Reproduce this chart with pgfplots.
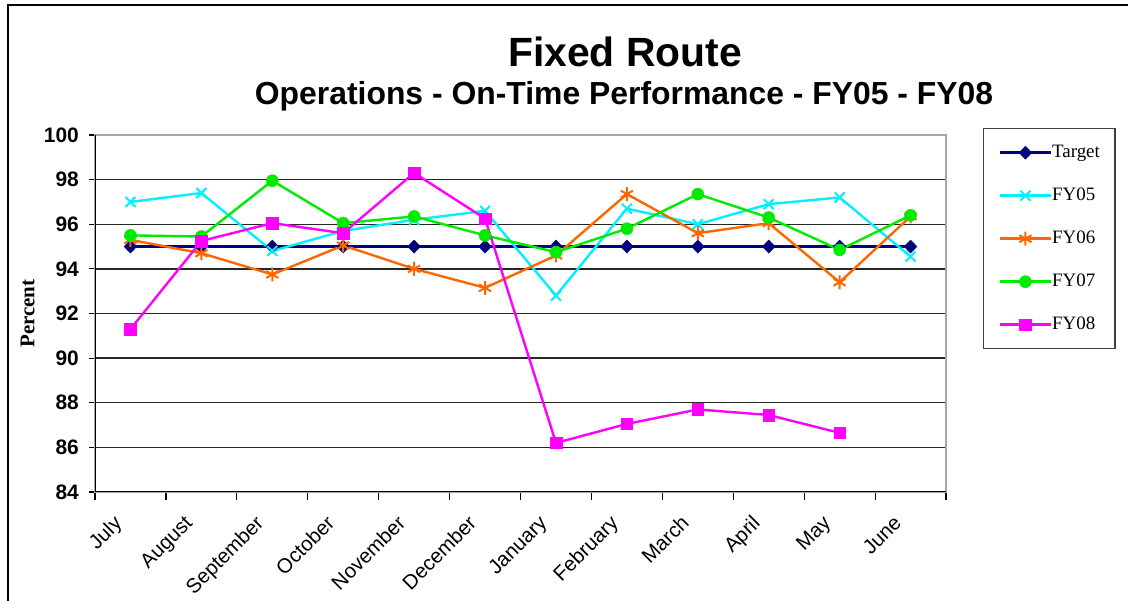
\documentclass[border=0pt]{standalone}
\usepackage{pgfplots}
\pgfplotsset{compat=1.18}
\usepackage{fontspec}
\setmainfont{Liberation Sans}
\newfontfamily\timesf{Liberation Serif}
\definecolor{cTarget}{RGB}{0,0,128}
\definecolor{cFYa}{RGB}{0,240,255}
\definecolor{cFYb}{RGB}{255,102,0}
\definecolor{cFYc}{RGB}{0,235,0}
\definecolor{cFYd}{RGB}{255,0,255}
\begin{document}
\begin{tikzpicture}[x=1bp,y=1bp]
\useasboundingbox (0,0) rectangle (1128,601);
\draw[line width=2.5bp] (8,-5) -- (8,596) -- (1135,596);
\node[anchor=base,font=\fontsize{41}{45}\selectfont\bfseries] at (625,534) {Fixed Route};
\node[anchor=base,font=\fontsize{32}{36}\selectfont\bfseries] at (624,496) {Operations - On-Time Performance - FY05 - FY08};
\begin{axis}[
  at={(95bp,109bp)}, anchor=south west,
  scale only axis, width=851bp, height=357bp,
  xmin=0.5, xmax=12.5, ymin=84, ymax=100,
  ytick={84,86,...,100},
  xtick={1,...,12},
  xticklabels={July,August,September,October,November,December,January,February,March,April,May,June},
  minor xtick={0.5,1.5,...,12.5},
  major x tick style={draw=none},
  tick pos=left,
  tick align=outside,
  major tick length=6bp, minor tick length=8bp,
  tick style={black, line width=1.2bp},
  ymajorgrids,
  grid style={black!85, line width=1.4bp},
  axis line style={draw=gray!70, line width=2bp},
  xticklabel style={xshift=-18bp, yshift=-16bp, rotate=45, anchor=north east, inner sep=0pt, font=\fontsize{20.5}{22}\selectfont},
  yticklabel style={font=\fontsize{21}{24}\selectfont\bfseries, inner sep=0pt, xshift=-10bp},
  /pgf/number format/assume math mode=true,
  ylabel={Percent},
  ylabel style={at={(axis description cs:-0.0793,0.5)}, anchor=center, font=\fontsize{21}{24}\selectfont\timesf\bfseries},
  legend style={at={(axis description cs:1.0435,1.0196)}, anchor=north west,
    draw=black!75, line width=1.4bp, inner xsep=15bp, inner ysep=15.5bp,
    font=\fontsize{19}{21}\selectfont\timesf,
    nodes={inner sep=0pt, text height=13bp, text depth=4bp},
    row sep=26bp,
    /tikz/every even column/.append style={column sep=7bp}},
  legend cell align=left,
  legend image code/.code={\draw[mark repeat=2,mark phase=2] plot coordinates {(0bp,0bp) (25.5bp,0bp) (51bp,0bp)};},
]
\addplot[cTarget, line width=2.4bp, mark=diamond*, mark size=6.5bp, mark options={fill=cTarget, solid, line width=0.5bp, xscale=1.3}]
  coordinates {(1,95)(2,95)(3,95)(4,95)(5,95)(6,95)(7,95)(8,95)(9,95)(10,95)(11,95)(12,95)};
\addlegendentry{Target}
\addplot[cFYa, line width=2.4bp, mark=x, mark size=7bp, mark options={line width=2bp}]
  coordinates {(1,97.0)(2,97.4)(3,94.8)(4,95.7)(5,96.2)(6,96.6)(7,92.8)(8,96.7)(9,96.0)(10,96.9)(11,97.2)(12,94.55)};
\addlegendentry{FY05}
\addplot[cFYb, line width=2.4bp, mark=asterisk, mark size=7bp, mark options={line width=2bp}]
  coordinates {(1,95.3)(2,94.7)(3,93.75)(4,95.05)(5,94.0)(6,93.15)(7,94.6)(8,97.35)(9,95.6)(10,96.05)(11,93.4)(12,96.35)};
\addlegendentry{FY06}
\addplot[cFYc, line width=2.4bp, mark=*, mark size=6bp, mark options={fill=cFYc, draw=cFYc, line width=0.5bp}]
  coordinates {(1,95.5)(2,95.45)(3,97.95)(4,96.05)(5,96.35)(6,95.5)(7,94.75)(8,95.8)(9,97.35)(10,96.3)(11,94.85)(12,96.4)};
\addlegendentry{FY07}
\addplot[cFYd, line width=2.4bp, mark=square*, mark size=5.8bp, mark options={fill=cFYd, draw=cFYd, line width=0.5bp}]
  coordinates {(1,91.3)(2,95.25)(3,96.05)(4,95.6)(5,98.3)(6,96.25)(7,86.2)(8,87.05)(9,87.7)(10,87.45)(11,86.65)};
\addlegendentry{FY08}
\draw[black, line width=1.6bp] (rel axis cs:0,1) -- (rel axis cs:0,0) -- (rel axis cs:1,0);
\end{axis}
\end{tikzpicture}
\end{document}
